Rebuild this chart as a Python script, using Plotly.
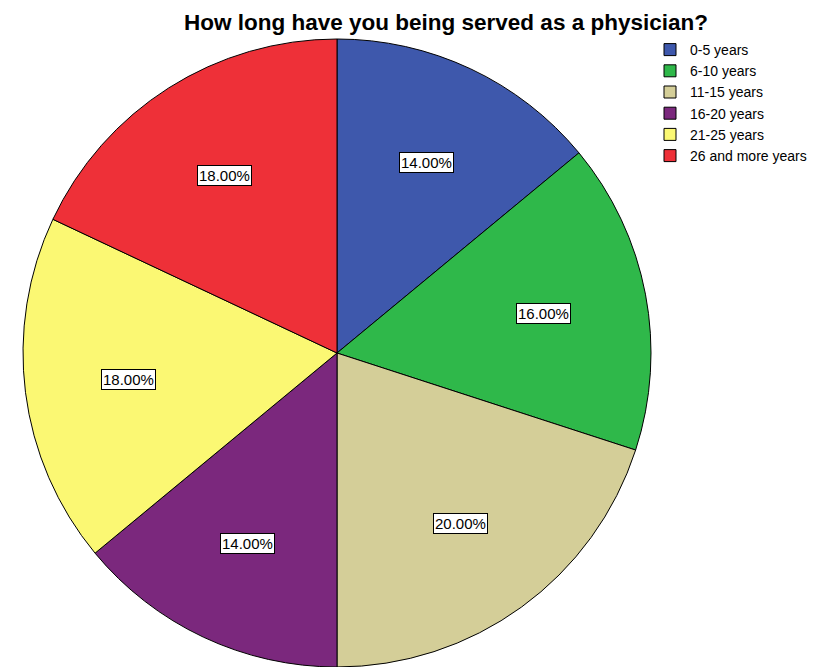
import math
import plotly.graph_objects as go

# Years of service as a physician, share of respondents (%)
categories = ["0-5 years", "6-10 years", "11-15 years", "16-20 years",
              "21-25 years", "26 and more years"]
shares = [14.0, 16.0, 20.0, 14.0, 18.0, 18.0]
colors = ["#3E58AC", "#2FB84A", "#D4CE98", "#7B287D", "#FBF873", "#EE3038"]

W, H = 818, 667
cx, cy, R = 337, 353, 314   # pie centre and radius in pixels (y from top)
FONT = "Liberation Sans, Arial, sans-serif"

fig = go.Figure(go.Pie(
    labels=categories,
    values=shares,
    sort=False,
    direction="clockwise",
    rotation=0,
    marker=dict(colors=colors, line=dict(color="#000000", width=1)),
    textinfo="none",
    hoverinfo="label+percent",
    domain=dict(x=[(cx - R) / W, (cx + R) / W],
                y=[(H - cy - R) / H, (H - cy + R) / H]),
))

# Boxed percentage labels placed at each slice's mid angle
total = sum(shares)
start = 0.0
annotations = []
for v in shares:
    mid = (start + v / 2) / total * 2 * math.pi
    start += v
    r = 0.67 * R
    px = cx + r * math.sin(mid)
    py = cy - r * math.cos(mid)
    annotations.append(dict(
        x=px / W, y=1 - py / H, xref="paper", yref="paper",
        xanchor="center", yanchor="middle",
        text=f"{v / total * 100:.2f}%", showarrow=False,
        font=dict(family=FONT, size=15, color="#000000"),
        bgcolor="#FFFFFF", bordercolor="#000000", borderwidth=1, borderpad=1,
    ))

fig.update_layout(
    width=W, height=H,
    margin=dict(l=0, r=0, t=0, b=0),
    paper_bgcolor="#FFFFFF",
    plot_bgcolor="#FFFFFF",
    title=dict(text="<b>How long have you being served as a physician?</b>",
               x=446 / W, xanchor="center", y=1 - 22 / H, yanchor="middle",
               font=dict(family=FONT, size=22.5, color="#000000")),
    legend=dict(x=650 / W, y=1 - 34 / H, xanchor="left", yanchor="top",
                font=dict(family=FONT, size=14, color="#000000"),
                itemwidth=30, tracegroupgap=0, bgcolor="rgba(0,0,0,0)"),
    annotations=annotations,
    showlegend=True,
)

fig.write_html("out.html")
